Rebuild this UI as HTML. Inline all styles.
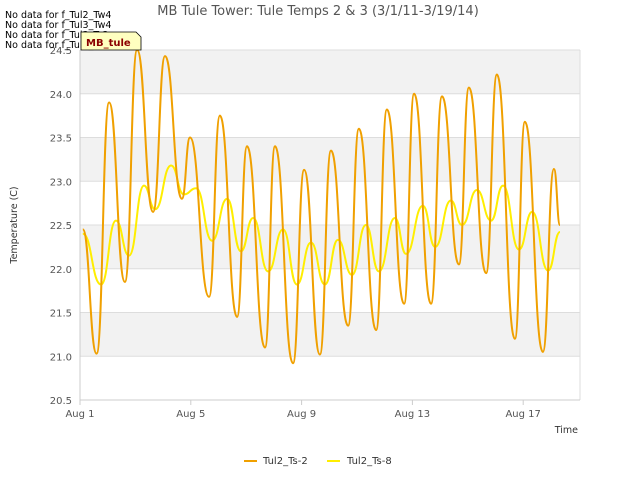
<!DOCTYPE html>
<html><head><meta charset="utf-8"><style>
body{margin:0;background:#fff;font-family:"DejaVu Sans","Liberation Sans",sans-serif}
svg text{font-family:"DejaVu Sans","Liberation Sans",sans-serif}
</style></head><body>
<svg id="c" width="640" height="480" xmlns="http://www.w3.org/2000/svg">
<rect width="640" height="480" fill="#fff"/>
<g id="bands"></g>
<g id="grid"></g>
<line x1="80" y1="50" x2="80" y2="400" stroke="#ccc"/>
<line x1="580" y1="50" x2="580" y2="400" stroke="#ddd"/>
<line x1="80" y1="400" x2="580" y2="400" stroke="#ccc"/>
<g id="yticks" font-size="10" fill="#555" text-anchor="end"></g>
<g id="xticks" font-size="10" fill="#555" text-anchor="middle"></g>
<g id="series"></g>
<text x="318" y="15" font-size="13" fill="#555" text-anchor="middle">MB Tule Tower: Tule Temps 2 &amp; 3 (3/1/11-3/19/14)</text>
<text transform="translate(17,225) rotate(-90)" font-size="9.5" fill="#333" text-anchor="middle">Temperature (C)</text>
<text x="578" y="433" font-size="9.5" fill="#333" text-anchor="end">Time</text>
<g font-size="9.5" fill="#000">
<text x="5" y="18">No data for f_Tul2_Tw4</text>
<text x="5" y="28">No data for f_Tul3_Tw4</text>
<text x="5" y="38">No data for f_Tul3_Ts2</text>
<text x="5" y="48">No data for f_Tul3_Ts8</text>
</g>
<g>
<path d="M81,32 L136,32 L141,37 L141,50 L81,50 Z" fill="#ffffc0" stroke="#000" stroke-width="0.8"/>
<text x="86" y="46" font-size="10" font-weight="bold" fill="#8b0000">MB_tule</text>
</g>
<g>
<line x1="244" y1="461" x2="257" y2="461" stroke="#f0a000" stroke-width="2"/>
<text x="263" y="464" font-size="10" fill="#333">Tul2_Ts-2</text>
<line x1="327" y1="461" x2="340" y2="461" stroke="#ffee00" stroke-width="2"/>
<text x="347" y="464" font-size="10" fill="#333">Tul2_Ts-8</text>
</g>
</svg>
<script>
const yTicks=[20.5,21.0,21.5,22.0,22.5,23.0,23.5,24.0,24.5];
const xTickDays=[0,4,8,12,16];
const xTickLabels=["Aug 1","Aug 5","Aug 9","Aug 13","Aug 17"];
const ts2Days=[0.1,0.6,1.05,1.62,2.06,2.64,3.07,3.68,3.97,4.66,5.05,5.67,6.03,6.68,7.04,7.69,8.09,8.66,9.06,9.68,10.07,10.69,11.08,11.7,12.06,12.67,13.07,13.68,14.04,14.66,15.05,15.7,16.06,16.71,17.11,17.33];
const ts2Vals=[22.45,21.03,23.9,21.85,24.5,22.65,24.43,22.8,23.5,21.68,23.75,21.45,23.4,21.1,23.4,20.92,23.13,21.02,23.35,21.35,23.6,21.3,23.82,21.6,24.0,21.6,23.97,22.05,24.07,21.95,24.22,21.2,23.68,21.05,23.14,22.5];
const ts8Days=[0.1,0.76,1.3,1.77,2.31,2.71,3.29,3.75,4.19,4.77,5.31,5.81,6.25,6.79,7.33,7.83,8.34,8.84,9.31,9.82,10.32,10.79,11.37,11.77,12.38,12.82,13.39,13.79,14.33,14.84,15.27,15.85,16.32,16.9,17.33];
const ts8Vals=[22.4,21.82,22.55,22.15,22.95,22.68,23.18,22.85,22.92,22.32,22.8,22.2,22.58,21.97,22.45,21.82,22.3,21.82,22.33,21.93,22.5,21.97,22.58,22.17,22.72,22.25,22.78,22.5,22.9,22.55,22.95,22.22,22.65,21.98,22.42];
const NS="http://www.w3.org/2000/svg";
const X=d=>80+d*27.7;
const Y=v=>50+(24.5-v)*87.5;
function mk(t,a,p){const e=document.createElementNS(NS,t);for(const k in a)e.setAttribute(k,a[k]);p.appendChild(e);return e;}
const bands=document.getElementById('bands');
for(let i=0;i<yTicks.length-1;i++){
  const top=yTicks[i+1];
  const r=mk('rect',{x:80,y:Y(top),width:500,height:Y(yTicks[i])-Y(top),fill:(i%2===0)?'#fff':'#f2f2f2'},bands);
  
  
}
const grid=document.getElementById('grid'),yt=document.getElementById('yticks'),xt=document.getElementById('xticks');
yTicks.forEach(v=>{
  const l=mk('line',{x1:80,x2:580,y1:Y(v),y2:Y(v),stroke:'#ddd'},grid);
  
  
  const t=mk('text',{x:72,y:Y(v)+4},yt);t.textContent=v.toFixed(1);
  
  
});
xTickDays.forEach((d,i)=>{
  const l=mk('line',{x1:X(d),x2:X(d),y1:400,y2:405,stroke:'#ccc'},xt);
  
  
  const t=mk('text',{x:X(d),y:417},xt);t.textContent=xTickLabels[i];
  
  
});
function path(ds,vs){
  let p='M'+X(ds[0]).toFixed(1)+','+Y(vs[0]).toFixed(1);
  for(let i=1;i<ds.length;i++){
    const x0=X(ds[i-1]),y0=Y(vs[i-1]),x1=X(ds[i]),y1=Y(vs[i]),m=(x0+x1)/2;
    p+=' C'+m.toFixed(1)+','+y0.toFixed(1)+' '+m.toFixed(1)+','+y1.toFixed(1)+' '+x1.toFixed(1)+','+y1.toFixed(1);
  }
  return p;
}
const s=document.getElementById('series');
const p8=mk('path',{d:path(ts8Days,ts8Vals),fill:'none',stroke:'#ffee00','stroke-width':2},s);


const p2=mk('path',{d:path(ts2Days,ts2Vals),fill:'none',stroke:'#f0a000','stroke-width':2},s);


</script>
</body></html>
